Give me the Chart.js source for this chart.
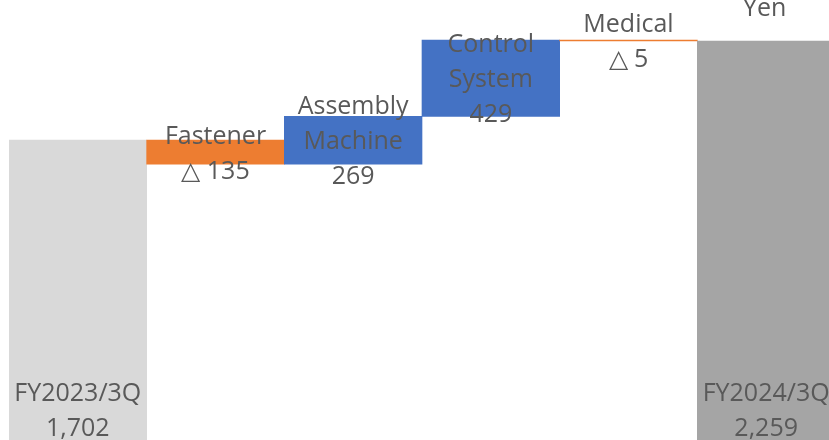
<!DOCTYPE html>
<html>
<head>
<meta charset="utf-8">
<script src="https://cdn.jsdelivr.net/npm/chart.js@4/dist/chart.umd.min.js"></script>
<style>
  html, body {
    margin: 0;
    width: 829px;
    height: 440px;
    overflow: hidden;
    background: #fff;
    font-family: "Open Sans", sans-serif;
  }
  #wrap {
    position: absolute;
    left: 9px;
    top: 0;
    width: 826px;
    height: 443px;
  }
  #unit {
    position: absolute;
    left: 743px;
    top: -11px;
    font-size: 25px;
    color: #595959;
  }
</style>
</head>
<body>
<div id="wrap"><canvas id="bridge" width="826" height="443"></canvas></div>
<div id="unit">Yen</div>
<script>
// Operating profit bridge, FY2023/3Q -> FY2024/3Q
const categories = ['FY2023/3Q', 'Fastener', 'Assembly Machine', 'Control System', 'Medical', 'FY2024/3Q'];
const labelNames = [['FY2023/3Q'], ['Fastener'], ['Assembly', 'Machine'], ['Control', 'System'], ['Medical'], ['FY2024/3Q']];
const values = [1702, -135, 269, 429, -5, 2259];
const isTotal = [true, false, false, false, false, true];

const colors = {
  start: '#d9d9d9',
  end: '#a5a5a5',
  up: '#4472c4',
  down: '#ed7d31',
};

// floating [from, to] ranges for the waterfall
let running = 0;
const ranges = values.map((v, i) => {
  if (isTotal[i]) {
    running = v;
    return [0, v];
  }
  const from = running;
  running += v;
  return [from, running];
});

const barColors = values.map((v, i) => {
  if (isTotal[i]) return i === 0 ? colors.start : colors.end;
  return v < 0 ? colors.down : colors.up;
});

function fmt(v) {
  const s = Math.abs(v).toLocaleString('en-US');
  return v < 0 ? '△ ' + s : s;
}

const labelLines = labelNames.map((n, i) => n.concat([fmt(values[i])]));

const barLabels = {
  id: 'barLabels',
  afterDatasetsDraw(chart) {
    const ctx = chart.ctx;
    const meta = chart.getDatasetMeta(0);
    const lineH = 35;
    ctx.save();
    ctx.font = '25px "Open Sans", sans-serif';
    ctx.fillStyle = '#595959';
    ctx.textAlign = 'center';
    ctx.textBaseline = 'middle';
    meta.data.forEach((bar, i) => {
      const lines = labelLines[i];
      const { x, y, base } = bar.getProps(['x', 'y', 'base'], true);
      let first;
      if (isTotal[i]) {
        first = base - 14 - (lines.length - 1) * lineH;
      } else {
        const mid = (y + base) / 2 + 2;
        first = mid - (lines.length - 1) * lineH / 2;
      }
      lines.forEach((t, k) => ctx.fillText(t, x, first + k * lineH));
    });
    ctx.restore();
  },
};

new Chart(document.getElementById('bridge').getContext('2d'), {
  type: 'bar',
  data: {
    labels: categories,
    datasets: [
      {
        data: ranges,
        backgroundColor: barColors,
        borderWidth: 0,
        barPercentage: 1,
        categoryPercentage: 1,
      },
    ],
  },
  options: {
    responsive: false,
    animation: false,
    devicePixelRatio: 1,
    layout: { padding: 0 },
    scales: {
      x: { display: false },
      y: { display: false, min: 0, max: 2490 },
    },
    plugins: {
      legend: { display: false },
      tooltip: { enabled: false },
    },
  },
  plugins: [barLabels],
});
</script>
</body>
</html>
